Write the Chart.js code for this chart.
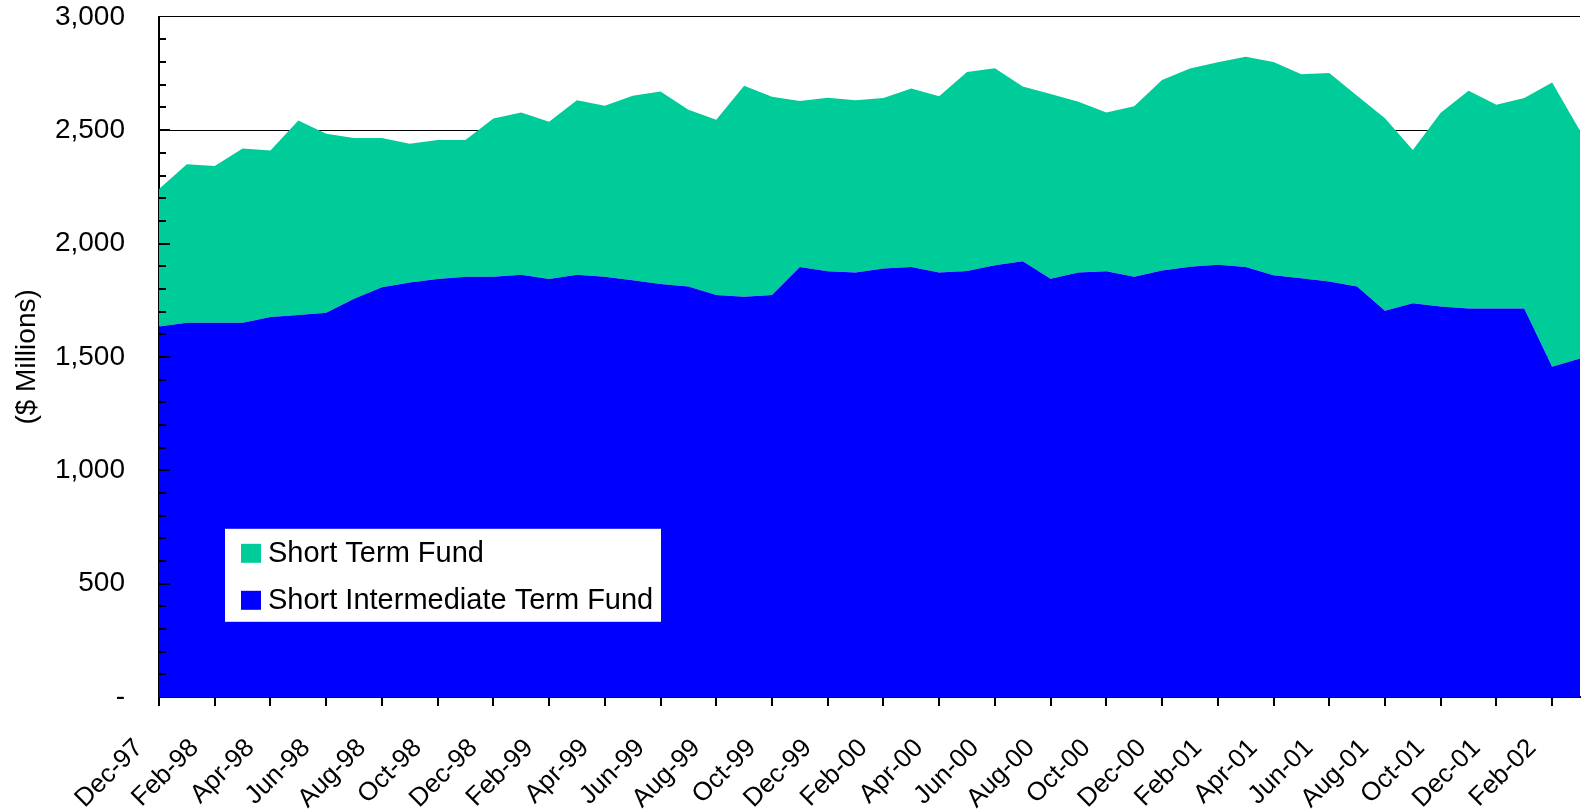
<!DOCTYPE html>
<html>
<head>
<meta charset="utf-8">
<script src="https://cdn.jsdelivr.net/npm/chart.js@4.4.1/dist/chart.umd.min.js"></script>
<style>
html,body{margin:0;padding:0;background:#fff;}
#wrap{width:1585px;height:812px;position:relative;}
</style>
</head>
<body>
<div id="wrap"><canvas id="c"></canvas></div>
<script>
const MONTHS=['Dec-97','Jan-98','Feb-98','Mar-98','Apr-98','May-98','Jun-98','Jul-98','Aug-98','Sep-98','Oct-98','Nov-98','Dec-98',
'Jan-99','Feb-99','Mar-99','Apr-99','May-99','Jun-99','Jul-99','Aug-99','Sep-99','Oct-99','Nov-99','Dec-99',
'Jan-00','Feb-00','Mar-00','Apr-00','May-00','Jun-00','Jul-00','Aug-00','Sep-00','Oct-00','Nov-00','Dec-00',
'Jan-01','Feb-01','Mar-01','Apr-01','May-01','Jun-01','Jul-01','Aug-01','Sep-01','Oct-01','Nov-01','Dec-01',
'Jan-02','Feb-02','Mar-02'];
// $ millions
const SHORT_INTERMEDIATE=[1634,1651,1651,1651,1676,1685,1695,1756,1807,1828,1844,1853,1853,1862,1844,1862,1853,1838,1822,1810,
1773,1765,1773,1897,1878,1872,1890,1897,1872,1879,1904,1922,1845,1872,1878,1854,1881,1898,1906,1897,
1860,1847,1832,1810,1704,1737,1722,1713,1713,1713,1457,1493];
const SHORT_TERM=[606,699,691,768,734,858,789,709,658,612,613,604,699,716,693,770,755,814,848,780,
773,931,874,732,765,760,752,787,778,877,869,771,815,753,700,751,840,874,894,927,
941,900,920,842,849,675,855,961,899,929,1253,1004];
const Y_TICKS=[0,500,1000,1500,2000,2500,3000];

const GREEN='#00cc99', BLUE='#0000ff', FONT='"Liberation Sans", Arial, sans-serif';
const NONE='rgba(0,0,0,0)';

// tick marks (y inside the plot, x below it) plus the boxed legend
const extras={
  id:'extras',
  afterDatasetsDraw(chart){
    const ctx=chart.ctx, x=chart.scales.x, y=chart.scales.y, a=chart.chartArea;
    ctx.save();
    ctx.strokeStyle='#000';ctx.lineWidth=2;
    for(let v=100;v<3000;v+=100){
      const py=Math.round(y.getPixelForValue(v));
      const len=v%500===0?11:7;
      ctx.beginPath();ctx.moveTo(a.left,py);ctx.lineTo(a.left+len,py);ctx.stroke();
    }
    for(let i=0;i<MONTHS.length;i+=2){
      const px=Math.round(x.getPixelForValue(i));
      ctx.beginPath();ctx.moveTo(px,a.bottom);ctx.lineTo(px,a.bottom+9);ctx.stroke();
    }
    // legend
    const lx=a.left+66, ly=a.top+512;
    ctx.fillStyle='#fff';ctx.fillRect(lx,ly,436,93);
    const items=[{t:'Short Term Fund',c:GREEN},{t:'Short Intermediate Term Fund',c:BLUE}];
    ctx.font='29px '+FONT;ctx.textBaseline='middle';
    items.forEach((it,i)=>{
      const cy=ly+24+i*47;
      ctx.fillStyle=it.c;ctx.fillRect(lx+16,cy-9,20,19);
      ctx.fillStyle='#000';ctx.fillText(it.t,lx+43,cy+1);
    });
    ctx.restore();
  }
};

new Chart(document.getElementById('c'),{
  type:'line',
  data:{labels:MONTHS,datasets:[
    {label:'Short Intermediate Term Fund',data:SHORT_INTERMEDIATE,backgroundColor:BLUE,borderColor:BLUE,borderWidth:0,pointRadius:0,fill:'origin',tension:0},
    {label:'Short Term Fund',data:SHORT_TERM,backgroundColor:GREEN,borderColor:GREEN,borderWidth:0,pointRadius:0,fill:'-1',tension:0}
  ]},
  options:{
    responsive:true,maintainAspectRatio:false,animation:false,
    layout:{padding:{top:1,right:5,left:0,bottom:0}},
    plugins:{legend:{display:false},tooltip:{enabled:false}},
    scales:{
      x:{
        grid:{display:true,drawOnChartArea:false,tickColor:NONE,tickLength:36},
        border:{color:'#000',width:2},
        ticks:{autoSkip:false,minRotation:45,maxRotation:45,color:'#000',font:{family:FONT,size:26},padding:0,labelOffset:-20,
          callback:function(v,i){return i%2===0?MONTHS[i]:null;}},
        afterFit:s=>{s.height=115;}
      },
      y:{
        stacked:true,min:0,max:3000,
        afterBuildTicks:s=>{s.ticks=Y_TICKS.map(v=>({value:v}));},
        grid:{color:'#000',lineWidth:1,drawTicks:true,tickColor:NONE,tickLength:34},
        border:{color:'#000',width:2},
        ticks:{color:'#000',padding:0,font:{family:FONT,size:28},
          callback:v=>v===0?'-':v.toLocaleString('en-US')},
        title:{display:true,text:'($ Millions)',color:'#000',font:{family:FONT,size:28},padding:{top:10,bottom:0}},
        afterFit:s=>{s.width=159;}
      }
    }
  },
  plugins:[extras]
});
</script>
</body>
</html>
